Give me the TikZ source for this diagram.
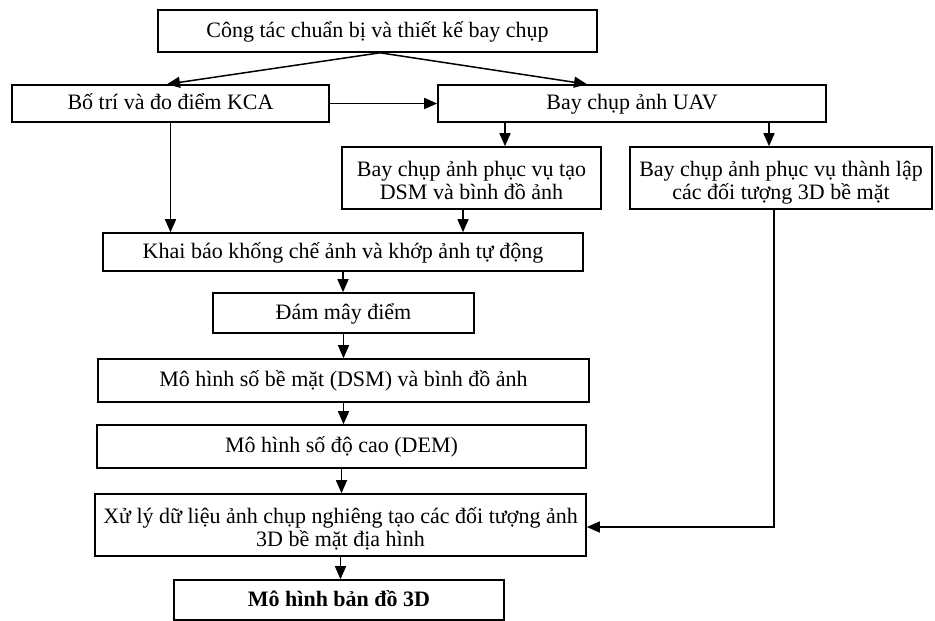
\documentclass[tikz,border=0pt]{standalone}
\usepackage{fontspec}
\setmainfont{Liberation Serif}
\usetikzlibrary{arrows.meta}
\setlength{\lineskiplimit}{-12pt}
\newcommand{\oneln}[1]{\rule[-6pt]{0pt}{24pt}#1}
\newcommand{\twoln}[2]{\rule{0pt}{25pt}#1\\#2\rule[-6pt]{0pt}{6pt}}
\begin{document}
\begin{tikzpicture}[x=1pt,y=1pt,
  box/.style={draw=black, line width=1.6pt, fill=white, inner sep=0pt, align=center,
    font=\fontsize{22}{23}\selectfont},
  arr/.style={draw=black, line width=1.5pt, -{Triangle[length=13pt,width=11pt]}}]
\useasboundingbox (0,0) rectangle (935,-621);
\fill[white] (0,0) rectangle (935,-621);

\node[box, minimum width=439pt, minimum height=42pt] (n1) at (377.5,-31) {\oneln{Công tác chuẩn bị và thiết kế bay chụp}};
\node[box, minimum width=317pt, minimum height=37pt] (n2) at (170.5,-103.5) {\oneln{Bố trí và đo điểm KCA}};
\node[box, minimum width=388pt, minimum height=37pt] (n3) at (632,-103.5) {\oneln{Bay chụp ảnh UAV}};
\node[box, minimum width=259pt, minimum height=62pt] (n4) at (471.5,-178) {\twoln{Bay chụp ảnh phục vụ tạo}{DSM và bình đồ ảnh}};
\node[box, minimum width=302pt, minimum height=62pt] (n5) at (781,-178) {\twoln{Bay chụp ảnh phục vụ thành lập}{các đối tượng 3D bề mặt}};
\node[box, minimum width=480pt, minimum height=38pt] (n6) at (343,-252) {\oneln{Khai báo khống chế ảnh và khớp ảnh tự động}};
\node[box, minimum width=261pt, minimum height=40pt] (n7) at (343.5,-313) {\oneln{Đám mây điểm}};
\node[box, minimum width=491pt, minimum height=43pt] (n8) at (343.5,-380.5) {\oneln{Mô hình số bề mặt (DSM) và bình đồ ảnh}};
\node[box, minimum width=489pt, minimum height=43pt] (n9) at (341.5,-446.5) {\oneln{Mô hình số độ cao (DEM)}};
\node[box, minimum width=491pt, minimum height=62pt] (n10) at (340.5,-525) {\twoln{Xử lý dữ liệu ảnh chụp nghiêng tạo các đối tượng ảnh}{3D bề mặt địa hình}};
\node[box, minimum width=330pt, minimum height=40pt] (n11) at (339,-600) {\oneln{\bfseries Mô hình bản đồ 3D}};

% connectors
\draw[arr] ([xshift=2.5pt]n1.south) -- ([xshift=-3.5pt]n2.north);
\draw[arr] ([xshift=2.5pt]n1.south) -- ([xshift=-45pt]n3.north);
\draw[arr] (n2.east) -- (n3.west);
\draw[arr] ([xshift=-127pt]n3.south) -- ([xshift=33.5pt]n4.north);
\draw[arr] ([xshift=137pt]n3.south) -- ([xshift=-12pt]n5.north);
\draw[arr] (n2.south) -- (n2.south |- n6.north);
\draw[arr] ([xshift=-8.5pt]n4.south) -- ([xshift=120pt]n6.north);
\draw[arr] (n6.south) -- (n6.south |- n7.north);
\draw[arr] (n7.south) -- (n7.south |- n8.north);
\draw[arr] (n8.south) -- (n8.south |- n9.north);
\draw[arr] (n9.south) -- (n9.south |- n10.north);
\draw[arr] (n10.south) -- (n10.south |- n11.north);
\draw[arr] ([xshift=-7pt]n5.south) |- ([yshift=-2pt]n10.east);
\end{tikzpicture}
\end{document}
